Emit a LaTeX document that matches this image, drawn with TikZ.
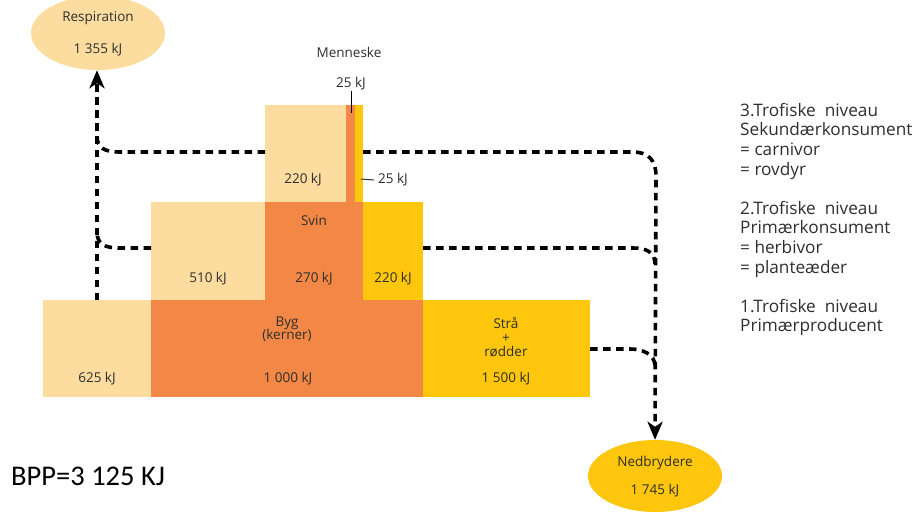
\documentclass[tikz,border=0pt]{standalone}
\usepackage{fontspec}
\setmainfont{Open Sans}
\newfontfamily\calib{Carlito}
\usetikzlibrary{arrows.meta}
\definecolor{peach}{HTML}{FDDCA0}
\definecolor{orng}{HTML}{F38746}
\definecolor{yell}{HTML}{FEC60C}
\definecolor{txt}{HTML}{2E2E2E}
\tikzset{
  blk/.style={inner sep=0pt, outer sep=0pt, anchor=north west},
  lbl/.style={font=\fontsize{13.5}{15}\selectfont, text=txt, inner sep=0pt},
  flow/.style={line width=3.6pt, dash pattern=on 7.5pt off 5.5pt, black},
  tip/.style={-{Stealth[length=18pt,width=15pt,inset=5pt]}},
  ell/.style={ellipse, minimum width=134pt, minimum height=74pt, inner sep=0pt},
}
\usetikzlibrary{shapes.geometric}
\begin{document}
\begin{tikzpicture}[x=1pt,y=-1pt]
\useasboundingbox (0,0) rectangle (923,516);
% bottom row
\node[blk, fill=peach, minimum width=108pt, minimum height=97pt] (b1) at (43,300) {};
\node[blk, fill=orng, minimum width=272pt, minimum height=97pt] (b2) at (151,300) {};
\node[blk, fill=yell, minimum width=167pt, minimum height=97pt] (b3) at (423,300) {};
% middle row
\node[blk, fill=peach, minimum width=114pt, minimum height=98pt] (m1) at (151,202) {};
\node[blk, fill=orng, minimum width=98pt, minimum height=98pt] (m2) at (265,202) {};
\node[blk, fill=yell, minimum width=60pt, minimum height=98pt] (m3) at (363,202) {};
% top row
\node[blk, fill=peach, minimum width=81pt, minimum height=97pt] (t1) at (265,105) {};
\node[blk, fill=orng, minimum width=9pt, minimum height=97pt] (t2) at (346,105) {};
\node[blk, fill=yell, minimum width=8pt, minimum height=97pt] (t3) at (355,105) {};
% ellipses
\begin{scope}
\clip (0,0) rectangle (923,516);
\node[ell, fill=peach] (resp) at (98,33) {};
\end{scope}
\node[ell, fill=yell, minimum height=72pt] (ned) at (655,476) {};
\node[lbl] (respa) at (98,18) {Respiration};
\node[lbl] (respb) at (98,50) {1 355 kJ};
\node[lbl] (neda) at (655,463) {Nedbrydere};
\node[lbl] (nedb) at (655,491) {1 745 kJ};
% labels
\node[lbl] (men) at (349,52) {Menneske};
\node[lbl] (men25) at (351,84) {25 kJ};
\coordinate (tk1) at (351,91);
\coordinate (tk2) at (351,113);
\draw[line width=1pt, black] (tk1) -- (tk2);
\node[lbl, anchor=west] (r25) at (378,180) {25 kJ};
\coordinate (dsh) at (361,179);
\draw[line width=1pt, txt] (dsh) -- ([xshift=-4pt]r25.west);
\node[lbl] (l220) at (303,180) {220 kJ};
\node[lbl] (svin) at (314,221) {Svin};
\node[lbl] (l510) at (208,279) {510 kJ};
\node[lbl] (l270) at (314,279) {270 kJ};
\node[lbl] (l220b) at (393,279) {220 kJ};
\node[lbl, align=center] (byg) at (287,329) {Byg\\[-2pt](kerner)};
\node[lbl, align=center] (stra) at (506,337) {Strå\\[-1pt]+\\[-1pt]rødder};
\node[lbl] (l625) at (97,379) {625 kJ};
\node[lbl] (l1000) at (288,379) {1 000 kJ};
\node[lbl] (l1500) at (506,379) {1 500 kJ};
% right text
\node[anchor=north west, align=left, inner sep=0pt, text=txt,
  font=\fontsize{17.2}{19.6}\selectfont] (lev) at (740,103)
  {3.Trofiske\ \ niveau\\Sekundærkonsument\\= carnivor\\= rovdyr\\[19.6pt]
   2.Trofiske\ \ niveau\\Primærkonsument\\= herbivor\\= planteæder\\[19.6pt]
   1.Trofiske\ \ niveau\\Primærproducent};
\node[anchor=west, inner sep=0pt, font=\calib\fontsize{28.5}{32}\selectfont] (bpp) at (11,476) {BPP=3 125 KJ};
% flows left
\coordinate (lv) at (97,300);
\draw[flow, tip] (b1.north -| lv) -- (resp.south -| lv);
\draw[flow] (m1.west |- 0,248) -- (119,248) .. controls (105,248) and (97,244) .. (97,232);
\draw[flow] (t1.west |- 0,152) -- (119,152) .. controls (105,152) and (97,148) .. (97,136);
% flows right
\draw[flow, tip] (t3.east |- 0,152) -- (633,152) .. controls (648,152) and (656,160) .. (656,176) -- (ned.north);
\draw[flow] (m3.east |- 0,248) -- (633,248) .. controls (646,248) and (655,252) .. (655,264);
\draw[flow] (b3.east |- 0,349) -- (630,349) .. controls (642,349) and (655,354) .. (655,366);
\end{tikzpicture}
\end{document}
